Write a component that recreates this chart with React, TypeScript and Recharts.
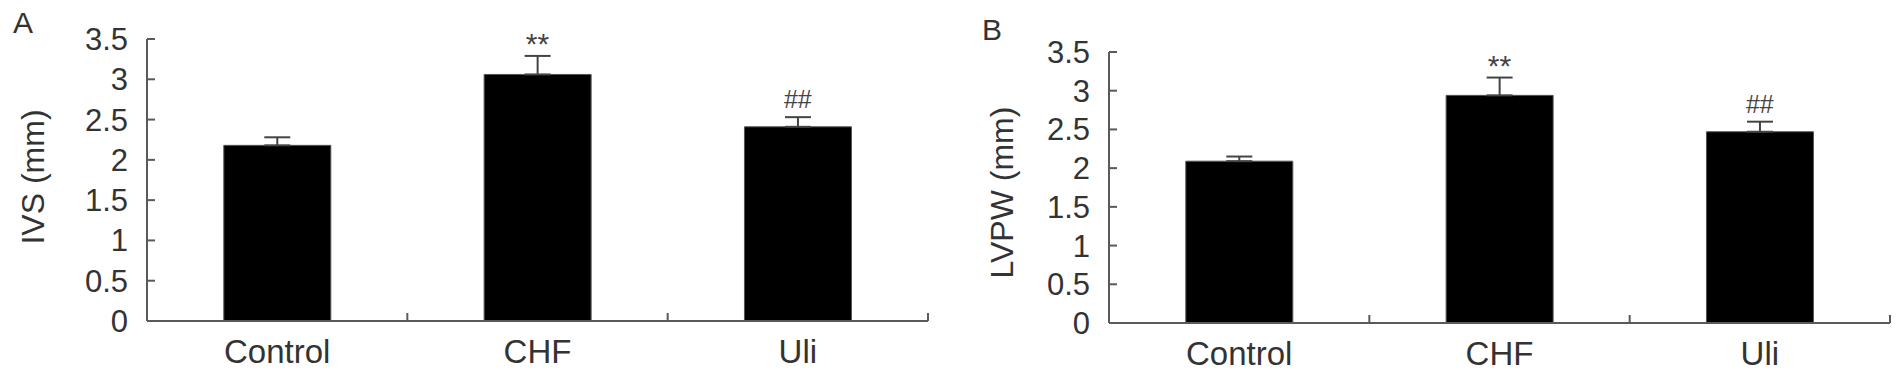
import { BarChart, Bar, XAxis, YAxis, ErrorBar, ReferenceDot } from 'recharts'

const categories = ['Control', 'CHF', 'Uli']
const marks = ['', '**', '##']
const yTicks = [0, 0.5, 1, 1.5, 2, 2.5, 3, 3.5]

const ivsMean = [2.18, 3.06, 2.41]
const ivsErr = [0.1, 0.23, 0.12]

const lvpwMean = [2.09, 2.94, 2.47]
const lvpwErr = [0.06, 0.23, 0.13]

const FONT = '"Liberation Sans", Arial, sans-serif'
const AXIS = '#5a5a5a'
const TEXT = '#333'

interface PanelProps {
  letter: string
  yLabel: string
  mean: number[]
  err: number[]
  left: number
  width: number
  axisWidth: number
  top: number
  xHeight: number
  right: number
  labelX: number
  labelDy: number
}

function Panel(p: PanelProps) {
  const data = categories.map((c, i) => ({ name: c, value: p.mean[i], err: [0, p.err[i]], mark: marks[i] }))
  const band = (p.width - p.axisWidth - p.right) / categories.length

  const yTick = (props: any) => {
    const { x, y, payload } = props
    return (
      <g>
        <line x1={x} x2={x + 8} y1={y} y2={y} stroke={AXIS} strokeWidth={2} />
        <text x={x - 19} y={y} dy={11} textAnchor="end" fontSize={31} fill={TEXT} fontFamily={FONT}>
          {payload.value}
        </text>
      </g>
    )
  }

  const xTick = (props: any) => {
    const { x, y, payload } = props
    return (
      <g>
        <line x1={x + band / 2} x2={x + band / 2} y1={y} y2={y - 8} stroke={AXIS} strokeWidth={2} />
        <text x={x} y={y + 42} textAnchor="middle" fontSize={33} fill={TEXT} fontFamily={FONT}>
          {payload.value}
        </text>
      </g>
    )
  }

  const yLabel = (props: any) => {
    const vb = props.viewBox
    const cx = vb.x + p.labelX
    const cy = vb.y + vb.height / 2 + p.labelDy
    return (
      <text x={cx} y={cy} transform={`rotate(-90, ${cx}, ${cy})`} textAnchor="middle" dy={11}
        fontSize={32} fill={TEXT} fontFamily={FONT}>
        {p.yLabel}
      </text>
    )
  }

  return (
    <div style={{ position: 'absolute', left: p.left, top: 0 }}>
      <BarChart width={p.width} height={382} data={data}
        margin={{ top: p.top, right: p.right, left: 0, bottom: 0 }} barCategoryGap="29.5%">
        <XAxis dataKey="name" height={p.xHeight} stroke={AXIS} strokeWidth={2}
          tickLine={false} tickSize={0} tickMargin={0} interval={0} tick={xTick} />
        <YAxis width={p.axisWidth} domain={[0, 3.5]} ticks={yTicks} stroke={AXIS} strokeWidth={2}
          tickLine={false} tickSize={0} tickMargin={0} tick={yTick} interval={0}
          label={{ content: yLabel }} />
        <Bar dataKey="value" fill="#000" stroke="#555" strokeWidth={1} isAnimationActive={false}>
          <ErrorBar dataKey="err" width={13} stroke="#444" strokeWidth={2} direction="y" isAnimationActive={false} />
        </Bar>
        {data.map((d, i) => d.mark ? (
          <ReferenceDot key={i} x={d.name} y={d.value + p.err[i]} r={0} stroke="none" fill="none"
            label={{ value: d.mark, position: 'top', offset: d.mark === '**' ? 2 : 9,
              fontSize: d.mark === '**' ? 30 : 25, fill: '#444', fontFamily: FONT }} />
        ) : null)}
      </BarChart>
      <div style={{ position: 'absolute', left: p.letter === 'A' ? 13 : 22, top: p.letter === 'A' ? 8 : 15,
        fontFamily: FONT, fontSize: 30, color: TEXT, lineHeight: '30px' }}>
        {p.letter}
      </div>
    </div>
  )
}

export default function App() {
  return (
    <div style={{ position: 'absolute', left: 0, top: 0, width: 1904, height: 382, background: '#fff' }}>
      <Panel letter="A" yLabel="IVS (mm)" mean={ivsMean} err={ivsErr}
        left={0} width={960} axisWidth={147} top={39} xHeight={61} right={32} labelX={33} labelDy={-3} />
      <Panel letter="B" yLabel="LVPW (mm)" mean={lvpwMean} err={lvpwErr}
        left={960} width={944} axisWidth={149} top={52} xHeight={59} right={14} labelX={42} labelDy={5} />
    </div>
  )
}
